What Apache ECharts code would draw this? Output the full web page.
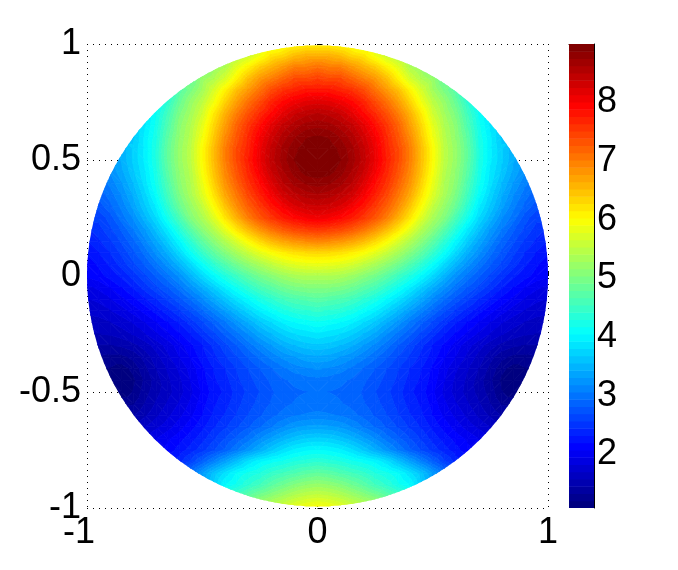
<!DOCTYPE html>
<html><head><meta charset="utf-8">
<style>html,body{margin:0;padding:0;background:#fff}#c{width:678px;height:570px}</style>
<script src="https://cdn.jsdelivr.net/npm/echarts@6/dist/echarts.min.js"></script>
</head><body><div id="c"></div>
<script>
// Tick labels
const xTicks = [-1, 0, 1];
const yTicks = [-1, -0.5, 0, 0.5, 1];
const barTicks = [2, 3, 4, 5, 6, 7, 8];
const barMin = 1.09, barMax = 8.99, bandCount = 64;
// Grid rows: y = 1 down to -1 in steps of 0.05.
// Each row lists x = 0, 0.05, 0.10 ... outward; the field is mirror-symmetric about x = 0.
const rowStep = 0.05;
const halfRows = [
[6.1,6.1,6.0,5.9,5.7],
[6.6,6.6,6.5,6.3,6.2,5.9,5.6,5.4,5.2],
[7.1,7.0,7.0,6.8,6.6,6.4,6.1,5.8,5.4,5.2,4.9],
[7.5,7.4,7.4,7.2,7.0,6.8,6.5,6.1,5.7,5.4,5.2,4.8],
[7.8,7.8,7.7,7.6,7.4,7.1,6.8,6.5,6.1,5.7,5.3,5.0,4.7,4.2],
[8.2,8.15,8.05,7.9,7.7,7.4,7.1,6.75,6.35,5.9,5.5,5.2,4.85,4.4,4.0],
[8.5,8.45,8.35,8.15,7.9,7.65,7.35,7.0,6.6,6.15,5.65,5.3,5.0,4.55,4.15,3.85],
[8.7,8.66,8.55,8.4,8.15,7.85,7.55,7.2,6.75,6.3,5.8,5.4,5.1,4.65,4.2,3.9,3.65],
[8.88,8.85,8.72,8.55,8.3,8.0,7.65,7.3,6.9,6.4,5.9,5.45,5.15,4.75,4.25,3.95,3.65],
[8.98,8.94,8.83,8.65,8.4,8.08,7.7,7.4,7,6.5,6,5.5,5.2,4.8,4.3,3.95,3.7,3.45],
[8.99,8.96,8.87,8.68,8.43,8.1,7.75,7.4,7,6.5,6,5.5,5.2,4.8,4.3,3.95,3.7,3.45,3.25],
[8.95,8.92,8.8,8.6,8.36,8.03,7.68,7.33,6.93,6.45,5.95,5.45,5.15,4.75,4.25,3.9,3.65,3.4,3.2],
[8.8,8.76,8.66,8.48,8.2,7.88,7.58,7.22,6.83,6.35,5.85,5.4,5.1,4.65,4.2,3.85,3.55,3.3,3.1,2.95],
[8.6,8.55,8.45,8.3,8.03,7.73,7.43,7.05,6.68,6.2,5.75,5.35,5.0,4.55,4.1,3.75,3.45,3.2,3.0,2.85],
[8.35,8.32,8.22,8.03,7.8,7.53,7.23,6.88,6.45,6.0,5.55,5.2,4.85,4.4,3.95,3.65,3.35,3.1,2.9,2.75],
[8.05,8,7.9,7.75,7.55,7.3,7.0,6.6,6.2,5.75,5.35,5.05,4.6,4.2,3.8,3.5,3.2,3.0,2.75,2.6],
[7.55,7.5,7.42,7.28,7.08,6.83,6.53,6.2,5.82,5.43,5.1,4.72,4.32,3.93,3.6,3.3,3.06,2.84,2.66,2.52,2.42],
[6.95,6.9,6.82,6.7,6.53,6.3,6.03,5.72,5.42,5.1,4.78,4.4,4.03,3.7,3.4,3.14,2.9,2.72,2.55,2.42,2.32],
[6.3,6.28,6.22,6.12,5.98,5.8,5.58,5.33,5.06,4.78,4.45,4.12,3.78,3.47,3.22,2.98,2.78,2.6,2.45,2.32,2.22],
[5.85,5.83,5.78,5.68,5.53,5.35,5.15,4.93,4.68,4.4,4.1,3.8,3.5,3.24,3.02,2.83,2.66,2.5,2.35,2.22,2.12],
[5.4,5.4,5.35,5.25,5.1,4.95,4.75,4.52,4.3,4.05,3.78,3.5,3.22,3.02,2.84,2.66,2.5,2.35,2.25,2.15,2.1],
[5.05,5.05,5.0,4.9,4.75,4.6,4.4,4.18,3.95,3.7,3.45,3.22,3.0,2.82,2.66,2.5,2.34,2.2,2.08,1.98,1.92],
[4.75,4.7,4.65,4.55,4.4,4.25,4.05,3.85,3.63,3.4,3.17,2.96,2.77,2.6,2.45,2.3,2.16,2.04,1.94,1.86,1.82],
[4.45,4.4,4.35,4.25,4.1,3.95,3.75,3.55,3.33,3.12,2.92,2.72,2.55,2.4,2.25,2.12,2.0,1.9,1.82,1.76,1.74],
[4.15,4.1,4.05,3.95,3.8,3.65,3.45,3.25,3.05,2.85,2.67,2.5,2.34,2.2,2.07,1.95,1.84,1.76,1.7,1.66,1.64],
[3.9,3.85,3.8,3.7,3.55,3.4,3.2,3.02,2.85,2.66,2.5,2.33,2.18,2.05,1.93,1.82,1.72,1.65,1.6,1.58],
[3.65,3.62,3.55,3.45,3.3,3.15,3.0,2.82,2.65,2.48,2.32,2.17,2.02,1.88,1.76,1.64,1.54,1.48,1.45,1.45],
[3.4,3.38,3.3,3.22,3.1,2.97,2.83,2.69,2.55,2.41,2.26,2.09,1.95,1.8,1.66,1.5,1.37,1.3,1.3,1.32],
[3.2,3.17,3.12,3.03,2.93,2.82,2.7,2.58,2.45,2.33,2.17,2.0,1.85,1.72,1.58,1.42,1.25,1.15,1.2,1.25],
[3.02,3.0,2.97,2.92,2.84,2.75,2.65,2.54,2.4,2.3,2.14,1.96,1.8,1.68,1.52,1.36,1.18,1.1,1.14],
[2.95,2.94,2.92,2.88,2.8,2.7,2.6,2.5,2.35,2.26,2.1,1.92,1.78,1.66,1.54,1.4,1.22,1.12,1.15],
[3.0,2.98,2.95,2.9,2.83,2.74,2.64,2.53,2.4,2.3,2.15,1.98,1.84,1.72,1.6,1.46,1.32,1.3],
[3.1,3.08,3.05,2.98,2.9,2.8,2.7,2.58,2.46,2.35,2.2,2.05,1.92,1.8,1.68,1.56,1.45],
[3.35,3.33,3.28,3.18,3.05,2.93,2.8,2.68,2.55,2.43,2.29,2.15,2.02,1.9,1.8,1.7,1.62],
[3.7,3.68,3.6,3.48,3.33,3.18,3.0,2.85,2.7,2.55,2.4,2.27,2.15,2.05,1.95,1.87],
[4.05,4.02,3.95,3.82,3.65,3.45,3.25,3.05,2.85,2.68,2.52,2.38,2.25,2.12,2.05],
[4.4,4.35,4.3,4.2,4.12,4.02,3.85,3.6,3.35,3.1,2.85,2.6,2.4,2.25],
[4.8,4.75,4.65,4.55,4.45,4.3,4.2,4.07,3.85,3.6,3.3,3.0],
[5.2,5.15,5.05,4.9,4.75,4.55,4.4,4.2,4.05,3.7,3.3],
[5.6,5.55,5.45,5.3,5.15,5.0,4.8,4.6,4.4],
[6.0,5.95,5.85,5.7,5.55]
];

function jet(t){
  const c=(a)=>Math.round(255*Math.max(0,Math.min(1,a)));
  return 'rgb('+c(1.5-Math.abs(4*t-3))+','+c(1.5-Math.abs(4*t-2))+','+c(1.5-Math.abs(4*t-1))+')';
}
const bandSize=(barMax-barMin)/bandCount;
function at(i,j){const r=halfRows[i];return r[Math.min(Math.abs(j),r.length-1)];}

// One contour cell for each quad of the grid that touches the disk
const cells=[];
for(let i=0;i<halfRows.length-1;i++){
  for(let j=-20;j<20;j++){
    const xL=j*rowStep,xR=(j+1)*rowStep,yT=1-i*rowStep,yB=yT-rowStep;
    const nx=Math.min(Math.abs(xL),Math.abs(xR)),ny=Math.min(Math.abs(yT),Math.abs(yB));
    if(nx*nx+ny*ny>=1)continue;
    cells.push([xL,yT,at(i,j),at(i,j+1),at(i+1,j),at(i+1,j+1),j<0?1:0]);
  }
}
// Colour-bar bands
const barBands=[];
for(let k=0;k<bandCount;k++)barBands.push([0,1,barMin+k*bandSize,barMin+(k+1)*bandSize,k]);

function clipBand(poly,lo,hi){
  const cut=(pts,keep,lim)=>{
    const out=[];
    for(let n=0;n<pts.length;n++){
      const a=pts[n],b=pts[(n+1)%pts.length],ka=keep(a[2]),kb=keep(b[2]);
      if(ka)out.push(a);
      if(ka!==kb){const s=(lim-a[2])/(b[2]-a[2]);out.push([a[0]+s*(b[0]-a[0]),a[1]+s*(b[1]-a[1]),lim]);}
    }
    return out;
  };
  let p=cut(poly,v=>v>=lo,lo);
  if(p.length)p=cut(p,v=>v<=hi,hi);
  return p;
}
function bandOf(v){return Math.max(0,Math.min(bandCount-1,Math.floor((v-barMin)/bandSize)));}

function renderContour(params,api){
  const xL=api.value(0),yT=api.value(1),d=rowStep;
  const a=[xL,yT,api.value(2)],b=[xL+d,yT,api.value(3)],c=[xL,yT-d,api.value(4)],e=[xL+d,yT-d,api.value(5)];
  const tris=api.value(6)?[[a,b,e],[a,e,c]]:[[a,b,c],[b,e,c]];
  const children=[];
  const centre=api.coord([0,0]),edge=api.coord([1,0]);
  tris.forEach(tri=>{
    const vs=tri.map(p=>p[2]);
    const k0=bandOf(Math.min.apply(null,vs)),k1=bandOf(Math.max.apply(null,vs));
    for(let k=k0;k<=k1;k++){
      const lo=k===0?-99:barMin+k*bandSize,hi=k===bandCount-1?99:barMin+(k+1)*bandSize;
      const poly=clipBand(tri,lo,hi);
      if(poly.length<3)continue;
      const col=jet(k/(bandCount-1));
      children.push({type:'polygon',shape:{points:poly.map(p=>api.coord([p[0],p[1]]))},
        style:{fill:col,stroke:col,lineWidth:0.8}});
    }
  });
  return {type:'group',children:children,
    clipPath:{type:'circle',shape:{cx:centre[0],cy:centre[1],r:edge[0]-centre[0]}}};
}
function renderBar(params,api){
  const p0=api.coord([0,api.value(2)]),p1=api.coord([1,api.value(3)]);
  return {type:'rect',shape:{x:p0[0],y:p1[1],width:p1[0]-p0[0],height:p0[1]-p1[1]+0.5},
    style:{fill:jet(api.value(4)/(bandCount-1))}};
}

const font={fontFamily:'"Liberation Sans"',fontSize:36,color:'#000'};
const dotted={show:true,lineStyle:{color:'#000',width:1,type:[1,5]}};
const chart=echarts.init(document.getElementById('c'),null,{renderer:'canvas'});
chart.setOption({
  animation:false,
  backgroundColor:'#fff',
  grid:[{left:87,top:44,width:461,height:464},{left:569,top:44,width:25,height:464}],
  xAxis:[
    {type:'value',gridIndex:0,min:-1,max:1,interval:1,splitLine:dotted,
     axisLine:{show:false},axisTick:{show:true,inside:true,length:5,lineStyle:{color:'#000'}},
     axisLabel:Object.assign({margin:7,showMinLabel:true,showMaxLabel:true,hideOverlap:false,
       customValues:xTicks,formatter:v=>v===-1?'{m|-1}':String(v),
       rich:{m:Object.assign({padding:[0,16,0,0]},font)}},font)},
    {type:'value',gridIndex:1,min:0,max:1,position:'top',splitLine:{show:false},
     axisLine:{show:true,onZero:false,lineStyle:{color:'#000',width:1}},axisTick:{show:false},axisLabel:{show:false}}
  ],
  yAxis:[
    {type:'value',gridIndex:0,min:-1,max:1,interval:0.5,splitLine:dotted,
     axisLine:{show:false},axisTick:{show:true,inside:true,length:5,lineStyle:{color:'#000'}},
     axisLabel:Object.assign({margin:6,showMinLabel:true,showMaxLabel:true,hideOverlap:false,
       customValues:yTicks,formatter:v=>String(v)},font)},
    {type:'value',gridIndex:1,min:barMin,max:barMax,position:'right',splitLine:{show:false},
     axisLine:{show:true,onZero:false,lineStyle:{color:'#000',width:1}},
     axisTick:{show:true,inside:true,length:4,customValues:barTicks,lineStyle:{color:'#000'}},
     axisLabel:Object.assign({margin:3,customValues:barTicks,formatter:v=>String(v)},font)},
    {type:'value',gridIndex:1,min:barMin,max:barMax,position:'left',splitLine:{show:false},
     axisLine:{show:false},
     axisTick:{show:true,inside:true,length:4,customValues:barTicks,lineStyle:{color:'#000'}},
     axisLabel:{show:false}}
  ],
  series:[
    {type:'custom',name:'field',xAxisIndex:0,yAxisIndex:0,data:cells,clip:false,progressive:0,silent:true,
     encode:{x:0,y:1},renderItem:renderContour,z:3},
    {type:'custom',name:'colorbar',xAxisIndex:1,yAxisIndex:1,data:barBands,clip:true,progressive:0,silent:true,
     encode:{x:[0,1],y:[2,3]},renderItem:renderBar,z:1}
  ]
});
</script></body></html>
